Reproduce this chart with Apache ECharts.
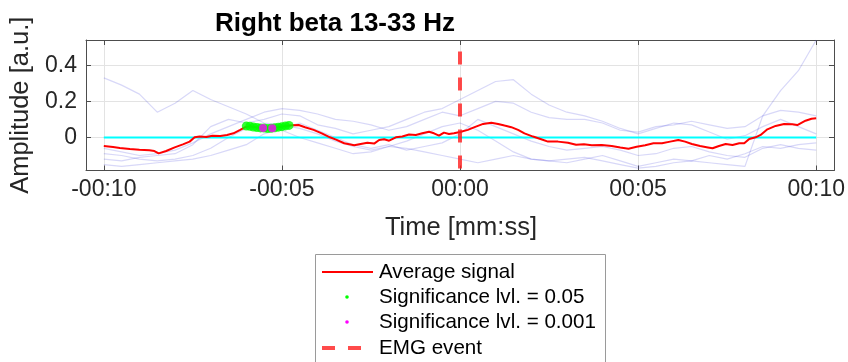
<!DOCTYPE html>
<html><head><meta charset="utf-8">
<script src="https://cdn.jsdelivr.net/npm/echarts@6/dist/echarts.min.js"></script>
<style>html,body{margin:0;padding:0;background:#fff}#c{width:848px;height:362px}</style>
</head><body><div id="c"></div>
<script>
// ---- data ----
const xTicks = [-10, -5, 0, 5, 10];
const xTickLabels = ['-00:10', '-00:05', '00:00', '00:05', '00:10'];
const yTicks = [0, 0.2, 0.4];
const yTickLabels = ['0', '0.2', '0.4'];

const avgT = [-10.0,-9.74,-9.55,-9.27,-9.0,-8.72,-8.58,-8.46,-8.25,-8.01,-7.78,-7.59,-7.45,-7.31,-7.12,-6.95,-6.73,-6.54,-6.36,-6.17,-6.03,-5.9,-5.7,-5.5,-5.3,-5.1,-4.9,-4.72,-4.53,-4.35,-4.11,-3.88,-3.65,-3.48,-3.25,-2.97,-2.79,-2.6,-2.41,-2.27,-2.13,-1.99,-1.8,-1.62,-1.43,-1.24,-1.06,-0.87,-0.73,-0.59,-0.45,-0.31,-0.17,0.0,0.22,0.41,0.65,0.88,1.07,1.25,1.44,1.63,1.81,2.05,2.28,2.47,2.75,3.03,3.26,3.48,3.70,3.98,4.26,4.5,4.73,4.96,5.2,5.43,5.67,5.9,6.13,6.32,6.51,6.74,6.96,7.09,7.27,7.46,7.65,7.84,7.98,8.12,8.3,8.44,8.63,8.86,9.1,9.33,9.47,9.7,9.87,10.0];
const avgV = [-0.047,-0.053,-0.058,-0.064,-0.068,-0.071,-0.075,-0.088,-0.075,-0.055,-0.038,-0.023,0.001,0.005,0.003,0.01,0.008,0.014,0.023,0.042,0.057,0.062,0.055,0.052,0.051,0.057,0.064,0.068,0.069,0.057,0.042,0.023,0.001,-0.012,-0.032,-0.043,-0.036,-0.029,-0.034,-0.014,-0.01,-0.018,0.001,0.005,0.016,0.014,0.023,0.032,0.023,0.01,0.027,0.019,0.023,0.03,0.042,0.057,0.075,0.082,0.075,0.066,0.057,0.042,0.023,0.005,-0.01,-0.023,-0.023,-0.029,-0.04,-0.038,-0.043,-0.042,-0.047,-0.055,-0.062,-0.051,-0.043,-0.032,-0.032,-0.023,-0.014,-0.023,-0.036,-0.047,-0.055,-0.06,-0.047,-0.036,-0.042,-0.032,-0.032,-0.008,0.001,0.014,0.045,0.064,0.075,0.073,0.069,0.093,0.104,0.106];

const trialT = [-10,-9.5,-9,-8.5,-8,-7.5,-7,-6.5,-6,-5.5,-5,-4.5,-4,-3.5,-3,-2.5,-2,-1.5,-1,-0.5,0,0.5,1,1.5,2,2.5,3,3.5,4,4.5,5,5.5,6,6.5,7,7.5,8,8.5,9,9.5,10];
const trial1 = [0.33,0.29,0.24,0.14,0.19,0.26,0.21,0.17,0.13,0.08,0.07,0.05,0.02,-0.02,-0.05,-0.07,-0.05,-0.06,-0.08,-0.10,-0.12,-0.14,-0.12,-0.10,-0.12,-0.13,-0.14,-0.12,-0.10,-0.13,-0.16,-0.14,-0.12,-0.13,-0.10,-0.12,-0.09,-0.05,-0.06,-0.04,-0.03];
const trial2 = [-0.12,-0.13,-0.11,-0.10,-0.09,-0.04,0.06,0.10,0.08,0.10,0.13,0.12,0.07,0.05,0.02,0.04,0.06,0.10,0.14,0.16,0.21,0.26,0.31,0.32,0.24,0.18,0.14,0.12,0.09,0.05,0.02,0.05,0.08,0.07,0.03,-0.01,0.01,0.06,0.10,0.06,0.02];
const trial3 = [-0.09,-0.10,-0.12,-0.13,-0.12,-0.10,-0.06,0.00,0.05,0.06,0.04,0.00,-0.03,-0.06,-0.09,-0.08,-0.05,-0.02,0.02,0.06,0.08,0.04,-0.02,-0.08,-0.12,-0.13,-0.12,-0.11,-0.13,-0.15,-0.17,-0.16,-0.14,-0.13,-0.14,-0.15,-0.16,0.12,0.26,0.37,0.54];
const trial4 = [-0.06,-0.08,-0.10,-0.09,-0.07,-0.03,0.02,0.06,0.10,0.14,0.16,0.15,0.13,0.10,0.09,0.07,0.04,0.06,0.10,0.14,0.12,0.16,0.20,0.19,0.14,0.11,0.10,0.10,0.08,0.04,0.03,0.06,0.07,0.09,0.07,0.05,0.06,0.12,0.15,0.14,0.12];
const trial5 = [-0.15,-0.16,-0.15,-0.14,-0.13,-0.12,-0.10,-0.07,-0.04,0.02,0.05,0.08,0.04,0.00,-0.04,-0.06,-0.04,-0.07,-0.05,-0.03,0.02,0.10,0.06,0.02,-0.02,-0.05,-0.07,-0.06,-0.05,-0.07,-0.10,-0.09,-0.06,-0.05,-0.08,-0.10,-0.11,-0.06,-0.04,-0.06,-0.07];

const sig05T = [-6.0,-5.9,-5.8,-5.7,-5.6,-5.5,-5.4,-5.3,-5.2,-5.1,-5.0,-4.9,-4.8];
const sig05V = [0.063,0.062,0.058,0.055,0.053,0.052,0.050,0.051,0.054,0.057,0.060,0.064,0.067];
const sig001T = [-5.53,-5.27];
const sig001V = [0.053,0.051];

const zeroT = [-10, 10];
const zeroV = [0, 0];
const emgT = [0, 0];
const emgV = [0.476, -0.183];

const legendNames = ['Average signal', 'Significance lvl. = 0.05', 'Significance lvl. = 0.001', 'EMG event'];
const titleText = 'Right beta 13-33 Hz';
const xName = 'Time [mm:ss]';
const yName = 'Amplitude [a.u.]';

// ---- chart ----
const FONT = 'Liberation Sans, Arial, Helvetica, sans-serif';
const zip = (a, b) => a.map((v, i) => [v, b[i]]);
const chart = echarts.init(document.getElementById('c'), null, {renderer: 'canvas'});
const trials = [trial1, trial2, trial3, trial4, trial5];
const axisCol = '#4d4d4d';

const series = [];
trials.forEach(tr => series.push({
  type: 'line', data: zip(trialT, tr), showSymbol: false, silent: true,
  lineStyle: {color: 'rgba(60,60,220,0.2)', width: 1.2}, z: 1
}));
series.push({type: 'line', data: zip(zeroT, zeroV), showSymbol: false,
  lineStyle: {color: '#00ffff', width: 2}, z: 2});
series.push({type: 'line', name: legendNames[0], data: zip(avgT, avgV), showSymbol: false,
  lineStyle: {color: '#ff0000', width: 2}, z: 3});
series.push({type: 'scatter', name: legendNames[1], data: zip(sig05T, sig05V), symbolSize: 9,
  itemStyle: {color: '#00ff00'}, z: 4});
series.push({type: 'scatter', name: legendNames[2], data: zip(sig001T, sig001V), symbolSize: 8,
  itemStyle: {color: '#ff00ff'}, z: 5});
series.push({type: 'line', name: legendNames[3], data: zip(emgT, emgV), showSymbol: false,
  lineStyle: {color: 'rgba(255,30,30,0.8)', width: 4, type: [13, 13]}, z: 6});

const LX = 315, LY = 254;
const rowY = [272, 297, 322, 348];
const graphic = [
  {type: 'text', x: 335, y: 24, style: {text: titleText, font: 'bold 26px ' + FONT, fill: '#000', textAlign: 'center', textVerticalAlign: 'middle'}},
  {type: 'text', x: 461, y: 228, style: {text: xName, font: '25.5px ' + FONT, fill: '#262626', textAlign: 'center', textVerticalAlign: 'middle'}},
  {type: 'rect', shape: {x: LX + 0.5, y: LY + 0.5, width: 290, height: 130}, style: {fill: '#fff', stroke: '#9a9a9a', lineWidth: 1}, z: 10},
  {type: 'line', shape: {x1: 322, y1: rowY[0], x2: 373, y2: rowY[0]}, style: {stroke: '#ff0000', lineWidth: 2}, z: 11},
  {type: 'circle', shape: {cx: 347, cy: rowY[1], r: 1.8}, style: {fill: '#00ff00'}, z: 11},
  {type: 'circle', shape: {cx: 347, cy: rowY[2], r: 1.8}, style: {fill: '#ff00ff'}, z: 11},
  {type: 'line', shape: {x1: 322, y1: rowY[3], x2: 373, y2: rowY[3]}, style: {stroke: 'rgba(255,30,30,0.8)', lineWidth: 4, lineDash: [13, 13]}, z: 11}
];
legendNames.forEach((n, i) => graphic.push({type: 'text', x: 379, y: rowY[i],
  style: {text: n, font: '20.6px ' + FONT, fill: '#000', textVerticalAlign: 'middle'}, z: 11}));

const tickFmtX = v => { const i = xTicks.indexOf(v); return i >= 0 ? xTickLabels[i] : ''; };
const tickFmtY = v => { const i = yTicks.findIndex(t => Math.abs(t - v) < 1e-9); return i >= 0 ? yTickLabels[i] : ''; };

chart.setOption({
  animation: false,
  backgroundColor: '#fff',
  grid: {left: 86, top: 40, width: 748, height: 130.5, show: false},
  xAxis: [{
    type: 'value', min: -10.5, max: 10.5, position: 'bottom',
    axisLine: {show: true, onZero: false, lineStyle: {color: axisCol, width: 1}},
    axisTick: {show: true, inside: true, length: 5, customValues: xTicks, lineStyle: {color: axisCol}},
    axisLabel: {customValues: xTicks, formatter: tickFmtX, fontFamily: FONT, fontSize: 23, color: '#262626', margin: 8},
    splitLine: {show: true, lineStyle: {color: '#e3e3e3', width: 1}}
  }, {
    type: 'value', min: -10.5, max: 10.5, position: 'top',
    axisLine: {show: true, onZero: false, lineStyle: {color: axisCol, width: 1}},
    axisTick: {show: true, inside: true, length: 5, customValues: xTicks, lineStyle: {color: axisCol}},
    axisLabel: {show: false}, splitLine: {show: false}
  }],
  yAxis: [{
    type: 'value', min: -0.183, max: 0.54, position: 'left',
    name: yName, nameLocation: 'middle', nameGap: 47, nameRotate: 90,
    nameTextStyle: {fontFamily: FONT, fontSize: 25.5, color: '#262626'},
    axisLine: {show: true, onZero: false, lineStyle: {color: axisCol, width: 1}},
    axisTick: {show: true, inside: true, length: 5, customValues: yTicks, lineStyle: {color: axisCol}},
    axisLabel: {customValues: yTicks, formatter: tickFmtY, fontFamily: FONT, fontSize: 23, color: '#262626', margin: 9},
    splitLine: {show: true, lineStyle: {color: '#e3e3e3', width: 1}}
  }, {
    type: 'value', min: -0.183, max: 0.54, position: 'right',
    axisLine: {show: true, onZero: false, lineStyle: {color: axisCol, width: 1}},
    axisTick: {show: true, inside: true, length: 5, customValues: yTicks, lineStyle: {color: axisCol}},
    axisLabel: {show: false}, splitLine: {show: false}
  }],
  series: series,
  graphic: graphic
});
</script></body></html>
